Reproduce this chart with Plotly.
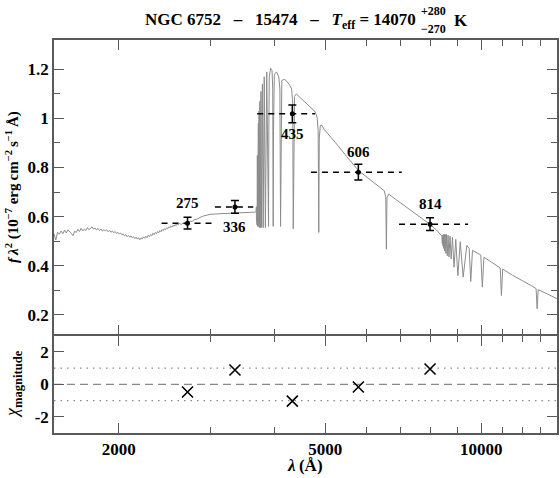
import math
import plotly.graph_objects as go

# ---------------- data ----------------
SPEC_WAVE = [
    1500, 1512, 1524, 1536, 1548, 1560, 1572, 1584, 1596, 1608, 1620, 1632, 1644, 1656,
    1668, 1680, 1692, 1704, 1716, 1728, 1740, 1752, 1764, 1776, 1788, 1800, 1812, 1824,
    1836, 1848, 1860, 1872, 1884, 1896, 1908, 1920, 1932, 1944, 1956, 1968, 1980, 1992,
    2004, 2016, 2028, 2040, 2052, 2064, 2076, 2088, 2100, 2112, 2124, 2136, 2148, 2160,
    2172, 2184, 2196, 2208, 2220, 2232, 2244, 2256, 2268, 2280, 2292, 2304, 2316, 2328,
    2340, 2352, 2364, 2376, 2388, 2400, 2412, 2424, 2436, 2448, 2460, 2472, 2484, 2496,
    2508, 2520, 2532, 2544, 2556, 2568, 2580, 2592, 2604, 2620, 2640, 2660, 2680, 2700,
    2720, 2745, 2770, 2795, 2820, 2850, 2880, 2910, 2950, 3000, 3100, 3200, 3300, 3400,
    3500, 3600, 3660, 3680,
    3684, 3686, 3689, 3691.5, 3694.5, 3697, 3700.5, 3704, 3708, 3712, 3717, 3722, 3728,
    3734, 3742, 3750, 3760, 3771, 3784, 3798, 3815, 3835, 3858, 3889, 3894, 3902, 3925,
    3950, 3962, 3970, 3976, 3990, 4030, 4070, 4090, 4102, 4110, 4125, 4180, 4260, 4310,
    4330, 4340, 4348, 4365, 4400, 4500, 4600, 4700, 4780, 4825, 4848, 4861, 4872, 4895,
    4930, 4980, 5100, 5300, 5500, 5800, 6100, 6400, 6500, 6545, 6563, 6580, 6630, 6700,
    7000, 7500, 8000, 8200, 8350, 8400, 8413, 8425, 8438, 8452, 8467, 8484, 8502, 8522,
    8545, 8570, 8598, 8630, 8665, 8705, 8750, 8800, 8863, 8930, 9015, 9110, 9229, 9380,
    9480, 9546, 9620, 9800, 9980, 10049, 10120, 10400, 10700, 10880, 10938, 11000, 11500,
    12000, 12500, 12760, 12818, 12880, 13300, 14000,
]
SPEC_FLUX = [
    0.530, 0.504, 0.536, 0.528, 0.541, 0.530, 0.545, 0.533, 0.546, 0.536, 0.531, 0.522, 0.540, 0.535,
    0.548, 0.539, 0.552, 0.541, 0.549, 0.543, 0.555, 0.546, 0.553, 0.558, 0.549, 0.553, 0.546, 0.551,
    0.543, 0.549, 0.540, 0.547, 0.541, 0.546, 0.538, 0.544, 0.536, 0.541, 0.534, 0.539, 0.531, 0.536,
    0.529, 0.533, 0.526, 0.529, 0.521, 0.526, 0.518, 0.523, 0.516, 0.521, 0.513, 0.518, 0.510, 0.516,
    0.508, 0.514, 0.505, 0.513, 0.509, 0.517, 0.511, 0.520, 0.514, 0.524, 0.518, 0.527, 0.522, 0.532,
    0.526, 0.535, 0.530, 0.539, 0.534, 0.543, 0.538, 0.547, 0.542, 0.551, 0.546, 0.554, 0.550, 0.558,
    0.553, 0.561, 0.557, 0.564, 0.560, 0.567, 0.563, 0.570, 0.566, 0.572, 0.568, 0.574, 0.570, 0.575,
    0.574, 0.581, 0.580, 0.587, 0.588, 0.594, 0.598, 0.602, 0.606, 0.609, 0.611, 0.612, 0.614, 0.615,
    0.616, 0.617, 0.618, 0.620,
    0.64, 0.58, 0.70, 0.57, 0.78, 0.565, 0.85, 0.56, 0.92, 0.56, 0.98, 0.56, 1.03,
    0.555, 1.07, 0.555, 1.11, 0.555, 1.14, 0.555, 1.17, 0.555, 1.19, 0.56, 0.95, 1.17, 1.205,
    1.195, 1.12, 0.56, 0.95, 1.18, 1.19, 1.17, 1.12, 0.56, 0.98, 1.155, 1.16, 1.14, 1.12,
    1.06, 0.55, 0.95, 1.09, 1.10, 1.08, 1.06, 1.045, 1.028, 1.005, 0.95, 0.535, 0.92, 0.972,
    0.972, 0.955, 0.93, 0.888, 0.845, 0.787, 0.751, 0.716, 0.705, 0.68, 0.467, 0.675, 0.692, 0.684,
    0.655, 0.609, 0.565, 0.545, 0.527, 0.520, 0.49, 0.524, 0.48, 0.526, 0.47, 0.528, 0.46, 0.528,
    0.45, 0.527, 0.44, 0.524, 0.435, 0.520, 0.427, 0.515, 0.393, 0.507, 0.359, 0.497, 0.353, 0.482,
    0.470, 0.335, 0.462, 0.452, 0.443, 0.312, 0.434, 0.418, 0.402, 0.390, 0.278, 0.386, 0.360,
    0.340, 0.318, 0.306, 0.224, 0.302, 0.287, 0.265,
]

FILTERS = ["275", "336", "435", "606", "814"]
PHOT_WAVE = [2714, 3350, 4322, 5795, 7967]
PHOT_FLUX = [0.573, 0.639, 1.019, 0.781, 0.569]
PHOT_ERR = [0.024, 0.026, 0.036, 0.032, 0.026]
BAND_LO = [2418, 3065, 3698, 4695, 6942]
BAND_HI = [3087, 3634, 4779, 7027, 9434]
LABEL_SIDE = [1, -1, -1, 1, 1]   # 1 = above, -1 = below
CHI_MAG = [-0.47, 0.89, -1.03, -0.16, 0.95]

X_MAJOR = [2000, 5000, 10000]
X_MINOR = [3000, 4000, 6000, 7000, 8000, 9000, 11000, 12000, 13000]
Y_MAJOR = [0.2, 0.4, 0.6, 0.8, 1.0, 1.2]
Y_MAJOR_TXT = ["0.2", "0.4", "0.6", "0.8", "1", "1.2"]
Y_MINOR = [0.3, 0.5, 0.7, 0.9, 1.1]
Y2_MAJOR = [-2, 0, 2]
Y2_MAJOR_TXT = ["-2", "0", "2"]

# ---------------- figure ----------------
FONT = "Liberation Serif"
AX = "#5a5a5a"
LW = 1.5
fig = go.Figure()

fig.add_trace(go.Scatter(x=SPEC_WAVE, y=SPEC_FLUX, mode="lines",
                         line=dict(color="#8c8c8c", width=1), xaxis="x", yaxis="y",
                         hoverinfo="skip", showlegend=False))

for lo, hi, f in zip(BAND_LO, BAND_HI, PHOT_FLUX):
    fig.add_trace(go.Scatter(x=[lo, hi], y=[f, f], mode="lines",
                             line=dict(color="black", width=1.5, dash="6px,5px"),
                             xaxis="x", yaxis="y", showlegend=False))

fig.add_trace(go.Scatter(x=PHOT_WAVE, y=PHOT_FLUX, mode="markers",
                         marker=dict(symbol="circle", size=5, color="black"),
                         error_y=dict(type="data", array=PHOT_ERR, color="black",
                                      thickness=1.5, width=4),
                         xaxis="x", yaxis="y", showlegend=False))

fig.add_trace(go.Scatter(x=PHOT_WAVE, y=CHI_MAG, mode="markers",
                         marker=dict(symbol="x-thin", size=11, color="black",
                                     line=dict(color="black", width=1.6)),
                         xaxis="x2", yaxis="y2", showlegend=False))

# reference lines in residual panel
fig.add_shape(type="line", xref="x2 domain", yref="y2", x0=0, x1=1, y0=0, y1=0,
              line=dict(color="#888888", width=1.3, dash="8px,5px"), layer="below")
for v in (1, -1):
    fig.add_shape(type="line", xref="x2 domain", yref="y2", x0=0, x1=1, y0=v, y1=v,
                  line=dict(color="#888888", width=1.3, dash="1.5px,5px"), layer="below")

# filter labels
for name, w, f, s in zip(FILTERS, PHOT_WAVE, PHOT_FLUX, LABEL_SIDE):
    fig.add_annotation(x=math.log10(w), y=f, xref="x", yref="y", text="<b>%s</b>" % name,
                       showarrow=False, yshift=20 * s, font=dict(family=FONT, size=15, color="black"))

L, R, T, B = 54, 3, 40, 45
W, H = 560, 478
pw, ph = W - L - R, H - T - B
SEP = 335.0                      # pixel row of the panel separator
top_lo = (H - B - (SEP - LW / 2)) / ph
bot_hi = (H - B - (SEP + LW / 2)) / ph


def px(x):
    return (x - L) / pw


def py(y):
    return (H - B - y) / ph


def note(x, y, text, size, xanchor="center", angle=0):
    fig.add_annotation(x=px(x), y=py(y), xref="paper", yref="paper", xanchor=xanchor,
                       yanchor="middle", textangle=angle, text=text, showarrow=False,
                       font=dict(family=FONT, size=size, color="black"))


note(418, 21, "<b>NGC\u00a06752\u00a0\u00a0\u00a0–\u00a0\u00a0\u00a015474\u00a0\u00a0\u00a0–\u00a0\u00a0\u00a0<i>T</i><sub>eff</sub> = 14070</b>",
     17, xanchor="right")
note(419, 11, "<b>+280</b>", 12, xanchor="left")
note(419, 29, "<b>−270</b>", 12, xanchor="left")
note(452, 21, "<b>K</b>", 17, xanchor="left")

note(13, 187, "<b><i>f</i>\u2009<i>λ</i><sup>2</sup> (10<sup>−7</sup> erg\u2009cm<sup>−2</sup>\u2009s<sup>−1</sup>\u2009Å)</b>",
     15, angle=-90)
note(13, 384, "<i>χ</i><sub><b>magnitude</b></sub>", 18, angle=-90)
note(305, 465, "<b><i>λ</i>\u2009(Å)</b>", 17)

xcommon = dict(type="log", range=[math.log10(1500), math.log10(14000)],
               showline=True, linecolor=AX, linewidth=LW, mirror="ticks",
               ticks="inside", ticklen=10, tickwidth=1.3, tickcolor=AX,
               tickvals=X_MAJOR, ticktext=["<b>%d</b>" % v for v in X_MAJOR],
               minor=dict(tickvals=X_MINOR, ticks="inside", ticklen=6, tickwidth=1.3, tickcolor=AX),
               showgrid=False, zeroline=False, automargin=False,
               tickfont=dict(family=FONT, size=17, color="black"))

fig.update_layout(
    template="none",
    width=W, height=H,
    margin=dict(l=L, r=R, t=T, b=B, pad=0),
    paper_bgcolor="white", plot_bgcolor="white",
    font=dict(family=FONT, color="black"),
    showlegend=False,
    xaxis=dict(**xcommon, domain=[0, 1], anchor="y", showticklabels=False),
    xaxis2=dict(**xcommon, domain=[0, 1], anchor="y2", matches="x", showticklabels=True),
    yaxis=dict(domain=[top_lo, 1], range=[0.12, 1.32], anchor="x",
               showline=True, linecolor=AX, linewidth=LW, mirror="ticks",
               ticks="inside", ticklen=10, tickwidth=1.3, tickcolor=AX,
               tickvals=Y_MAJOR, ticktext=["<b>%s</b>" % t for t in Y_MAJOR_TXT],
               minor=dict(tickvals=Y_MINOR, ticks="inside", ticklen=6, tickwidth=1.3, tickcolor=AX),
               showgrid=False, zeroline=False, automargin=False,
               tickfont=dict(family=FONT, size=17, color="black")),
    yaxis2=dict(domain=[0, bot_hi], range=[-3, 3], anchor="x2",
                showline=True, linecolor=AX, linewidth=LW, mirror="ticks",
                ticks="inside", ticklen=10, tickwidth=1.3, tickcolor=AX,
                tickvals=Y2_MAJOR, ticktext=["<b>%s</b>" % t for t in Y2_MAJOR_TXT],
                showgrid=False, zeroline=False, automargin=False,
                tickfont=dict(family=FONT, size=17, color="black")),
)

fig.write_html("out.html", config={"displayModeBar": False},
               post_script="document.body.style.margin='0';document.body.style.overflow='hidden';")
